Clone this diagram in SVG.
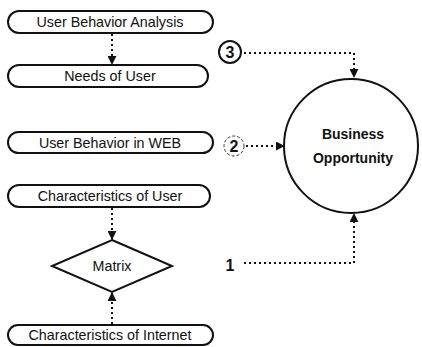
<svg xmlns="http://www.w3.org/2000/svg" width="422" height="347" viewBox="0 0 422 347">
  <style>
    .box { fill: #fff; stroke: #111; stroke-width: 2; }
    .lbl { font-family: "Liberation Sans", Arial, sans-serif; font-size: 14.3px; fill: #111; text-anchor: middle; }
    .bold { font-family: "Liberation Sans", Arial, sans-serif; font-size: 14px; font-weight: bold; fill: #111; text-anchor: middle; }
    .num { font-family: "Liberation Sans", Arial, sans-serif; font-size: 16px; font-weight: bold; fill: #111; text-anchor: middle; }
    .link { fill: none; stroke: #111; stroke-width: 2; stroke-dasharray: 2 3; }
  </style>
  <defs>
    <marker id="head" viewBox="0 0 10 10" refX="9" refY="5" markerWidth="4.5" markerHeight="4.5" orient="auto" markerUnits="strokeWidth">
      <path d="M0,0 L10,5 L0,10 Z" fill="#111"/>
    </marker>
  </defs>

  <g id="connectors">
    <path class="link" d="M112,34 V64" marker-end="url(#head)"/>
    <path class="link" d="M112,208 V239" marker-end="url(#head)"/>
    <path class="link" d="M112,324 V293" marker-end="url(#head)"/>
    <path class="link" d="M244,53 H354 V77" marker-end="url(#head)"/>
    <path class="link" d="M246,146 H284" marker-end="url(#head)"/>
    <path class="link" d="M244,263 H354 V214" marker-end="url(#head)"/>
  </g>

  <g id="user-behavior-analysis">
    <rect class="box" x="8" y="11" width="205" height="22" rx="11"/>
    <text class="lbl" x="110" y="27">User Behavior Analysis</text>
  </g>
  <g id="needs-of-user">
    <rect class="box" x="8" y="65" width="200" height="22" rx="11"/>
    <text class="lbl" x="110" y="81">Needs of User</text>
  </g>
  <g id="user-behavior-web">
    <rect class="box" x="8" y="132" width="205" height="21" rx="10.5"/>
    <text class="lbl" x="110" y="147.5">User Behavior in WEB</text>
  </g>
  <g id="characteristics-user">
    <rect class="box" x="8" y="185" width="202" height="22" rx="11"/>
    <text class="lbl" x="110" y="201">Characteristics of User</text>
  </g>
  <g id="matrix">
    <polygon class="box" points="112,240 172,266 112,292 52,266"/>
    <text class="lbl" x="112" y="271">Matrix</text>
  </g>
  <g id="characteristics-internet">
    <rect class="box" x="8" y="325" width="205" height="20" rx="10"/>
    <text class="lbl" x="110" y="340">Characteristics of Internet</text>
  </g>

  <g id="business-opportunity">
    <circle class="box" cx="351" cy="146" r="67"/>
    <text class="bold" x="353" y="139">Business</text>
    <text class="bold" x="353" y="163">Opportunity</text>
  </g>

  <g id="step-3">
    <circle cx="230" cy="52" r="11" fill="#fff" stroke="#111" stroke-width="2"/>
    <text class="num" x="230" y="58">3</text>
  </g>
  <g id="step-2">
    <circle cx="234" cy="146" r="10" fill="#fff" stroke="#333" stroke-width="1" stroke-dasharray="3 2"/>
    <text class="num" x="234" y="152">2</text>
  </g>
  <g id="step-1">
    <text class="num" x="230" y="271">1</text>
  </g>
</svg>
